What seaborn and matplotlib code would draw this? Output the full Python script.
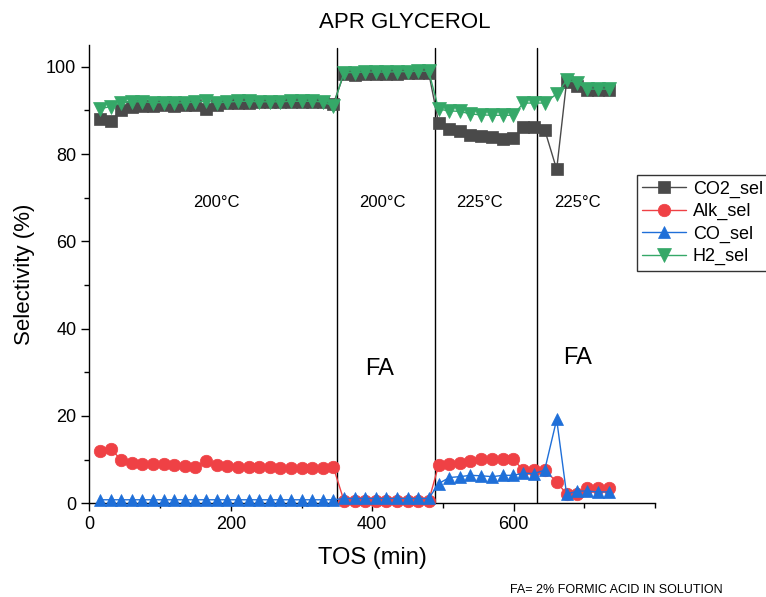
import matplotlib.pyplot as plt
import pandas as pd
import seaborn as sns
from matplotlib.ticker import MultipleLocator

# TOS (min) for every sample
tos = [15, 30, 45, 60, 75, 90, 105, 120, 135, 150, 165, 180, 195, 210, 225, 240,
       255, 270, 285, 300, 315, 330, 345,
       360, 375, 390, 405, 420, 435, 450, 465, 480,
       494, 509, 524, 539, 554, 570, 585, 599, 614, 629,
       644, 661, 675, 690, 704, 719, 735]

co2_sel = [88.0, 87.5, 90.2, 90.8, 91.0, 91.0, 91.2, 91.0, 91.2, 91.3, 90.4, 91.3,
           91.6, 91.8, 91.8, 91.9, 91.9, 91.9, 92.0, 92.0, 92.0, 92.0, 91.5,
           98.3, 98.2, 98.3, 98.3, 98.4, 98.4, 98.5, 98.5, 98.6,
           87.1, 85.8, 85.2, 84.4, 84.1, 83.9, 83.4, 83.6, 86.2, 86.3,
           85.6, 76.5, 96.6, 95.6, 94.6, 94.6, 94.6]
alk_sel = [12.0, 12.5, 9.9, 9.2, 8.9, 8.9, 9.0, 8.8, 8.6, 8.3, 9.8, 8.8,
           8.5, 8.2, 8.2, 8.2, 8.2, 8.0, 8.0, 8.0, 8.1, 8.1, 8.3,
           0.6, 0.6, 0.6, 0.6, 0.6, 0.6, 0.6, 0.6, 0.6,
           8.7, 8.9, 9.3, 9.8, 10.1, 10.2, 10.2, 10.1, 7.6, 7.6,
           7.6, 4.9, 2.1, 2.1, 3.4, 3.4, 3.4]
co_sel = [0.8, 0.8, 0.8, 0.8, 0.8, 0.8, 0.8, 0.8, 0.8, 0.8, 0.8, 0.8,
          0.8, 0.8, 0.8, 0.8, 0.8, 0.8, 0.8, 0.8, 0.8, 0.8, 0.8,
          1.1, 1.1, 1.1, 1.1, 1.1, 1.1, 1.1, 1.1, 1.1,
          4.5, 5.9, 6.1, 6.4, 6.3, 6.1, 6.4, 6.4, 6.9, 6.8,
          7.6, 19.2, 2.1, 2.8, 2.8, 2.6, 2.6]
h2_sel = [90.4, 90.9, 91.8, 92.0, 92.0, 91.8, 91.8, 91.7, 91.8, 91.9, 92.1, 91.8,
          91.9, 92.1, 92.1, 92.0, 92.0, 92.0, 92.1, 92.1, 92.1, 92.0, 91.0,
          98.7, 98.7, 98.8, 98.8, 98.8, 98.9, 98.9, 99.0, 99.0,
          90.3, 89.9, 89.8, 89.2, 89.0, 88.9, 88.9, 88.9, 91.7, 91.7,
          91.7, 93.8, 96.9, 96.4, 94.9, 94.9, 94.9]

# phase boundaries and annotations
boundaries = [350, 489, 633]
temp_labels = ["200°C", "200°C", "225°C", "225°C"]
temp_x = [179, 414, 552, 691]
fa_x = [410, 691]
fa_y = [30.7, 33.4]

sns.set_theme(style="ticks")
plt.rcParams["font.family"] = ["Liberation Sans", "DejaVu Sans"]
plt.rcParams.update({"text.color": "black", "axes.labelcolor": "black",
                     "xtick.color": "black", "ytick.color": "black"})

df = pd.DataFrame({"TOS": tos, "CO2_sel": co2_sel, "Alk_sel": alk_sel,
                   "CO_sel": co_sel, "H2_sel": h2_sel})

series = [
    ("CO2_sel", "s", "#4a4a4a", 8),
    ("Alk_sel", "o", "#ef4145", 9),
    ("CO_sel", "^", "#1f6fd8", 9),
    ("H2_sel", "v", "#35a868", 9.5),
]

fig = plt.figure(figsize=(7.66, 5.97), dpi=100)
ax = fig.add_axes([0.1168, 0.157, 0.855 - 0.1168, 0.9246 - 0.157])

for x in boundaries:
    ax.axvline(x, color="black", lw=1, ymax=0.993, zorder=1)

for name, marker, color, size in series:
    sns.lineplot(data=df, x="TOS", y=name, ax=ax, color=color, lw=1,
                 marker=marker, markersize=size, markeredgecolor=color,
                 markeredgewidth=0.5, label=name, zorder=3, clip_on=False)

for label, x in zip(temp_labels, temp_x):
    ax.text(x, 69, label, fontsize=12, ha="center", va="center")
for x, y in zip(fa_x, fa_y):
    ax.text(x, y, "FA", fontsize=17, ha="center", va="center")

ax.set_xlim(0, 800)
ax.set_ylim(0, 105)
ax.set_xticks([0, 200, 400, 600])
ax.xaxis.set_minor_locator(MultipleLocator(100))
ax.set_yticks([0, 20, 40, 60, 80, 100])
ax.set_yticks([10, 30, 50, 70, 90], minor=True)
ax.tick_params(which="major", direction="out", length=6, width=1, labelsize=13, color="black")
ax.tick_params(which="minor", direction="out", length=3.5, width=1, color="black")
for side in ["top", "right"]:
    ax.spines[side].set_visible(False)
for side in ["left", "bottom"]:
    ax.spines[side].set_color("black")
    ax.spines[side].set_linewidth(1)

ax.set_xlabel("TOS (min)", fontsize=17, labelpad=10)
ax.set_ylabel("Selectivity (%)", fontsize=16, labelpad=8)

handles, labels = ax.get_legend_handles_labels()
ax.get_legend().remove()
leg = fig.legend(handles, labels, loc="upper left", bbox_to_anchor=(0.8316, 0.7069),
                 fontsize=13, frameon=True, fancybox=False, edgecolor="black",
                 handlelength=2.4, labelspacing=0.3, borderpad=0.3, handletextpad=0.4,
                 borderaxespad=0)
leg.get_frame().set_linewidth(1)

fig.text(405 / 766, 1 - 22 / 597, "APR GLYCEROL", fontsize=16, ha="center", va="center")
fig.text(510 / 766, 1 - 590 / 597, "FA= 2% FORMIC ACID IN SOLUTION", fontsize=9,
         ha="left", va="center")

fig.savefig("out.png", dpi=100)
